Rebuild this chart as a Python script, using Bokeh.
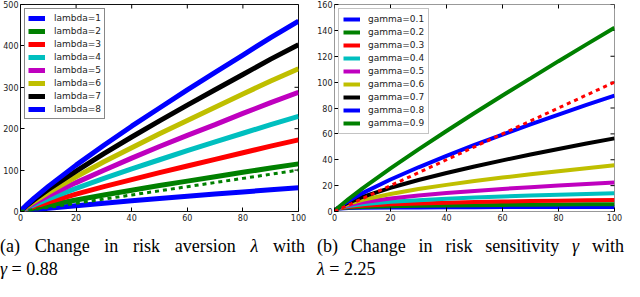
import math
from bokeh.plotting import figure
from bokeh.models import Range1d, FixedTicker, Div
from bokeh.layouts import column, row
from bokeh.embed import file_html
from bokeh.resources import INLINE

# ---------------- data ----------------
x_vals = [0, 1, 2, 5, 10, 20, 30, 40, 50, 60, 70, 80, 90, 100]

# (a) risk aversion lambda, gamma = 0.88
lambda_labels = ["lambda=1", "lambda=2", "lambda=3", "lambda=4",
                 "lambda=5", "lambda=6", "lambda=7", "lambda=8"]
lam1 = [0, 1, 1.84, 4.12, 7.59, 13.96, 19.95, 25.7, 31.3, 36.7, 42.0, 47.3, 52.5, 57.5]
lam2 = [0, 2, 3.68, 8.24, 15.2, 27.9, 39.9, 51.4, 62.6, 73.4, 84.0, 94.6, 105, 115]
lam3 = [0, 3, 5.52, 12.4, 22.8, 41.9, 59.9, 77.1, 93.9, 110, 126, 142, 158, 173]
lam4 = [0, 4, 7.36, 16.5, 30.4, 55.8, 79.8, 103, 125, 147, 168, 189, 210, 230]
lam5 = [0, 5, 9.2, 20.6, 38.0, 69.8, 99.8, 129, 157, 184, 210, 237, 263, 288]
lam6 = [0, 6, 11.0, 24.7, 45.5, 83.8, 120, 154, 188, 220, 252, 284, 315, 345]
lam7 = [0, 7, 12.9, 28.8, 53.1, 97.7, 140, 180, 219, 257, 294, 331, 368, 403]
lam8 = [0, 8, 14.7, 33.0, 60.7, 112, 160, 206, 250, 294, 336, 378, 420, 460]
lambda_series = [lam1, lam2, lam3, lam4, lam5, lam6, lam7, lam8]

# (b) risk sensitivity gamma, lambda = 2.25
gamma_labels = ["gamma=0.1", "gamma=0.2", "gamma=0.3", "gamma=0.4", "gamma=0.5",
                "gamma=0.6", "gamma=0.7", "gamma=0.8", "gamma=0.9"]
gam1 = [0, 2.25, 2.41, 2.64, 2.83, 3.04, 3.16, 3.25, 3.33, 3.39, 3.44, 3.49, 3.53, 3.57]
gam2 = [0, 2.25, 2.59, 3.10, 3.57, 4.10, 4.44, 4.70, 4.92, 5.10, 5.26, 5.40, 5.53, 5.65]
gam3 = [0, 2.25, 2.77, 3.65, 4.49, 5.53, 6.24, 6.81, 7.28, 7.68, 8.05, 8.39, 8.69, 8.96]
gam4 = [0, 2.25, 2.97, 4.28, 5.65, 7.46, 8.77, 9.84, 10.76, 11.57, 12.31, 12.98, 13.61, 14.20]
gam5 = [0, 2.25, 3.18, 5.03, 7.12, 10.06, 12.32, 14.23, 15.91, 17.43, 18.83, 20.12, 21.35, 22.5]
gam6 = [0, 2.25, 3.41, 5.91, 8.96, 13.58, 17.32, 20.58, 23.53, 26.24, 28.78, 31.19, 33.48, 35.66]
gam7 = [0, 2.25, 3.66, 6.94, 11.28, 18.32, 24.32, 29.77, 34.79, 39.51, 44.01, 48.33, 52.52, 56.52]
gam8 = [0, 2.25, 3.92, 8.15, 14.20, 24.73, 34.18, 43.04, 51.46, 59.51, 67.30, 74.93, 82.35, 89.57]
gam9 = [0, 2.25, 4.20, 9.58, 17.87, 33.35, 48.04, 62.24, 76.10, 89.64, 102.9, 116.2, 129.2, 142.0]
gamma_series = [gam1, gam2, gam3, gam4, gam5, gam6, gam7, gam8, gam9]

# dotted reference line (y = x)
ref_line = [0, 1, 2, 5, 10, 20, 30, 40, 50, 60, 70, 80, 90, 100]

x_ticks = [0, 20, 40, 60, 80, 100]
y_ticks_a = [0, 100, 200, 300, 400, 500]
y_ticks_b = [0, 20, 40, 60, 80, 100, 120, 140, 160]

caption_a = '(a) Change in risk aversion <i>&lambda;</i> with'
caption_a2 = '<i>&gamma;</i> = 0.88'
caption_b = '(b) Change in risk sensitivity <i>&gamma;</i> with'
caption_b2 = '<i>&lambda;</i> = 2.25'

# matplotlib classic colour cycle
cycle = ["#0000ff", "#008000", "#ff0000", "#00bfbf", "#bf00bf", "#bfbf00", "#000000"]


def make_fig(ymax, yticks, bl, br, frame_color):
    p = figure(width=312, height=225, x_range=Range1d(0, 100), y_range=Range1d(0, ymax),
               output_backend="svg", toolbar_location=None,
               min_border_left=bl, min_border_right=br, min_border_top=4, min_border_bottom=14)
    p.xgrid.visible = False
    p.ygrid.visible = False
    p.outline_line_color = frame_color
    p.outline_line_width = 1
    p.outline_line_alpha = 1
    p.background_fill_color = "white"
    p.border_fill_color = "white"
    for ax, ticks in ((p.xaxis[0], x_ticks), (p.yaxis[0], yticks)):
        ax.ticker = FixedTicker(ticks=ticks)
        ax.axis_line_color = None
        ax.major_tick_in = 4
        ax.major_tick_out = 0
        ax.minor_tick_line_color = None
        ax.major_tick_line_color = "black"
        ax.major_label_text_font = "DejaVu Sans"
        ax.major_label_text_font_size = "8px"
        ax.major_label_text_color = "#222222"
        ax.major_label_standoff = 2
    # inward tick marks on the top and right edges (clipped to the frame)
    p.scatter(x_ticks, [ymax] * len(x_ticks), marker="dash", size=8, angle=math.pi / 2,
              line_color="black", line_width=1)
    p.scatter([100] * len(yticks), yticks, marker="dash", size=8,
              line_color="black", line_width=1)
    return p


def style_legend(p, border, glyph_h, pad, standoff):
    lg = p.legend[0]
    lg.location = "top_left"
    lg.margin = 4
    lg.padding = pad
    lg.spacing = 1
    lg.glyph_width = 17
    lg.glyph_height = glyph_h
    lg.label_height = glyph_h
    lg.label_standoff = standoff
    lg.label_text_font = "DejaVu Sans"
    lg.label_text_font_size = "9px"
    lg.label_text_color = "#222222"
    lg.border_line_color = border
    lg.border_line_width = 1
    lg.background_fill_alpha = 1


# ---------------- panel (a) ----------------
pa = make_fig(500, y_ticks_a, 16, 14, "#111111")
for i, (lab, ys) in enumerate(zip(lambda_labels, lambda_series)):
    pa.line(x_vals, ys, line_color=cycle[i % 7], line_width=5, legend_label=lab)
pa.line(x_vals, ref_line, line_color=cycle[8 % 7], line_width=3, line_dash="4 4")
style_legend(pa, "#111111", 12, 3, 9)

# ---------------- panel (b) ----------------
pb = make_fig(160, y_ticks_b, 22, 10, "#999999")
for i, (lab, ys) in enumerate(zip(gamma_labels, gamma_series)):
    pb.line(x_vals, ys, line_color=cycle[i % 7], line_width=4, legend_label=lab)
pb.line(x_vals, ref_line, line_color=cycle[9 % 7], line_width=3, line_dash="4 4")
style_legend(pb, "#888888", 12, 4, 8)

# ---------------- captions ----------------
cap_style = ("font-family:'Liberation Serif',serif;font-size:18px;line-height:23px;"
             "color:#000;padding-top:10px;")


def caption(l1, l2, pl, w):
    html = (f'<div style="{cap_style}padding-left:{pl}px;width:{w}px;">'
            f'<div style="display:block;width:{w}px;text-align:justify;'
            f'text-align-last:justify;white-space:nowrap;word-spacing:0;">{l1}</div>'
            f'<div>{l2}</div></div>')
    return Div(text=html, width=312, height=56, margin=0)


ca = caption(caption_a, caption_a2, 0, 305)
cb = caption(caption_b, caption_b2, 5, 307)

layout = column(row(pa, pb), row(ca, cb))

open("out.html", "w").write(file_html(layout, INLINE))
